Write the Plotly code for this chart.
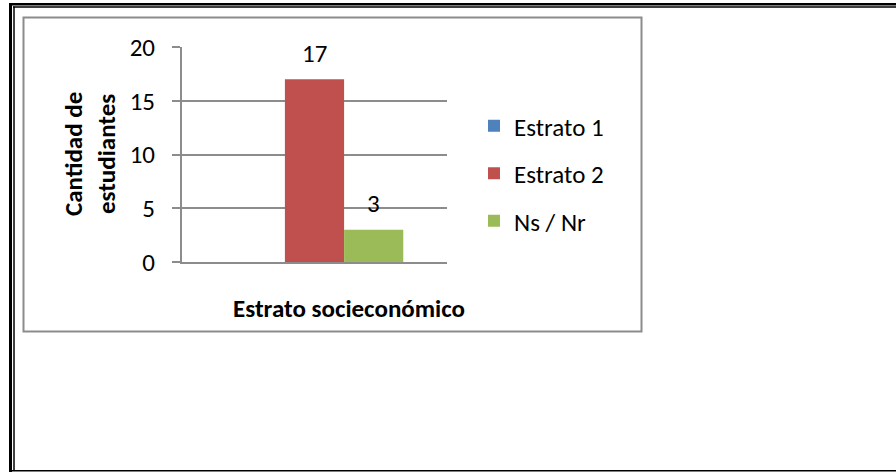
import plotly.graph_objects as go

categories = ["Estrato socioeconómico"]
series_names = ["Estrato 1", "Estrato 2", "Ns / Nr"]
series_values = [[0], [17], [3]]
series_labels = [[""], ["17"], ["3"]]
colors = ["#4F81BD", "#C0504D", "#9BBB59"]
y_ticks = [0, 5, 10, 15, 20]

W, H = 896, 472
L, R, T, B = 182, 447, 47, 262  # plot area pixel edges
BARGAP = 0.33

def px(x):
    return (x - L) / (R - L)

def py(y):
    return (B - y) / (B - T)

FONT = "Carlito, Calibri, Lato, 'Open Sans', sans-serif"
FS = 25

fig = go.Figure()
n = len(series_names)
bar_px = (R - L) * (1 - BARGAP) / n
annotations = []
for i, (name, vals, labs, col) in enumerate(zip(series_names, series_values, series_labels, colors)):
    fig.add_trace(go.Bar(
        x=categories, y=vals, name=name, legendgroup=name,
        marker=dict(color=col, line=dict(width=0)),
    ))
    for c, v, t in zip(categories, vals, labs):
        if t:
            annotations.append(dict(
                x=c, y=v, xref="x", yref="y", text=t, showarrow=False,
                xshift=(i - (n - 1) / 2) * bar_px, yshift=26, yanchor="middle",
                font=dict(size=FS, family=FONT, color="#000000")))

shapes = []
def line(x0, y0, x1, y1, color, width):
    shapes.append(dict(type="line", xref="paper", yref="paper",
                       x0=px(x0), y0=py(y0), x1=px(x1), y1=py(y1),
                       line=dict(color=color, width=width), layer="above"))

# outer double frame
line(10.5, 3, 10.5, 472, "#000000", 3)
line(9, 4.2, 896, 4.2, "#000000", 2.5)
line(14, 6.5, 14, 471, "#000000", 1.5)
line(13, 7, 896, 7, "#000000", 1.5)
line(9, 470.8, 896, 470.8, "#000000", 1.5)
# chart box
shapes.append(dict(type="rect", xref="paper", yref="paper",
                   x0=px(23.5), y0=py(17.5), x1=px(641.5), y1=py(331.5),
                   line=dict(color="#8C8C8C", width=2), layer="below"))

annotations += [
    dict(text="<b>Cantidad de<br>estudiantes</b>", xref="paper", yref="paper",
         x=px(90), y=py(154), textangle=-90, showarrow=False,
         font=dict(size=FS, family=FONT, color="#000000"), xanchor="center", yanchor="middle"),
    dict(text="<b>Estrato socieconómico</b>", xref="paper", yref="paper",
         x=px(349), y=py(308), showarrow=False,
         font=dict(size=FS, family=FONT, color="#000000"), xanchor="center", yanchor="middle"),
]

fig.update_layout(
    width=W, height=H,
    margin=dict(l=L, r=W - R, t=T, b=H - B, pad=0),
    paper_bgcolor="white", plot_bgcolor="white",
    barmode="group", bargap=BARGAP, bargroupgap=0,
    font=dict(family=FONT, color="#000000"),
    showlegend=True,
    legend=dict(x=px(474), y=py(103), xanchor="left", yanchor="top",
                font=dict(size=FS, family=FONT, color="#000000"),
                itemwidth=30, tracegroupgap=12, bgcolor="rgba(0,0,0,0)"),
    xaxis=dict(type="category", range=[-0.5, len(categories) - 0.5],
               showline=True, linecolor="#8C8C8C", linewidth=2, ticks="",
               showticklabels=False, showgrid=False, zeroline=False, fixedrange=True),
    yaxis=dict(range=[0, 20], tickvals=y_ticks, showline=True, linecolor="#8C8C8C",
               linewidth=2, ticks="outside", ticklen=8, tickcolor="#8C8C8C", tickwidth=2,
               showgrid=True, gridcolor="#8C8C8C", gridwidth=2, zeroline=False,
               tickfont=dict(size=FS, family=FONT, color="#000000"), ticklabelstandoff=12,
               fixedrange=True),
    shapes=shapes,
    annotations=annotations,
)

fig.write_html("out.html", config={"displayModeBar": False},
               post_script="document.body.style.margin='0px';document.documentElement.style.overflow='hidden';document.body.style.overflow='hidden';")
